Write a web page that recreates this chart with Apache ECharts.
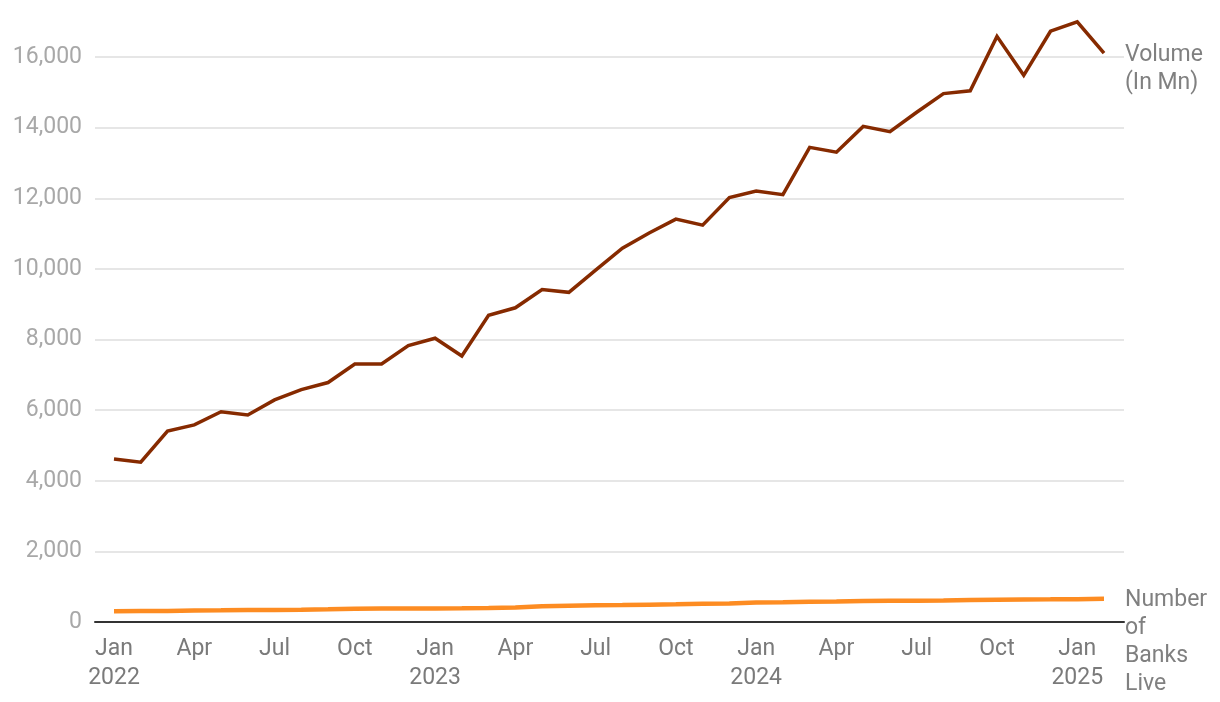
<!DOCTYPE html>
<html>
<head>
<meta charset="utf-8">
<script src="https://cdn.jsdelivr.net/npm/echarts@6/dist/echarts.min.js"></script>
<style>
html,body{margin:0;padding:0;background:#fff;}
#chart{width:1220px;height:702px;}
</style>
</head>
<body>
<div id="chart"></div>
<script>
const categories = [
  'Jan 2022','Feb 2022','Mar 2022','Apr 2022','May 2022','Jun 2022','Jul 2022','Aug 2022','Sep 2022','Oct 2022','Nov 2022','Dec 2022',
  'Jan 2023','Feb 2023','Mar 2023','Apr 2023','May 2023','Jun 2023','Jul 2023','Aug 2023','Sep 2023','Oct 2023','Nov 2023','Dec 2023',
  'Jan 2024','Feb 2024','Mar 2024','Apr 2024','May 2024','Jun 2024','Jul 2024','Aug 2024','Sep 2024','Oct 2024','Nov 2024','Dec 2024',
  'Jan 2025','Feb 2025'
];
const volume = [
  4617, 4527, 5405, 5583, 5955, 5862, 6288, 6579, 6781, 7305, 7309, 7829,
  8036, 7534, 8685, 8898, 9415, 9335, 9964, 10586, 11015, 11408, 11237, 12020,
  12203, 12102, 13440, 13303, 14035, 13885, 14435, 14963, 15042, 16584, 15482, 16730,
  16996, 16110
];
const banks = [
  304, 313, 313, 323, 330, 338, 338, 346, 358, 376, 381, 382,
  385, 390, 399, 414, 444, 458, 473, 481, 492, 500, 516, 522,
  550, 560, 572, 581, 595, 602, 605, 608, 623, 632, 637, 641,
  647, 656
];
const seriesNames = ['Volume\n(In Mn)', 'Number\nof\nBanks\nLive'];
const shownMonths = ['Jan', 'Apr', 'Jul', 'Oct'];

const FONT = 'Roboto';
const chart = echarts.init(document.getElementById('chart'), null, {renderer: 'canvas'});

chart.setOption({
  animation: false,
  backgroundColor: '#ffffff',
  textStyle: {fontFamily: FONT},
  grid: [
    {left: 95, right: 96, top: 57, bottom: 80, containLabel: false},
    {left: 114, right: 116, top: 57, bottom: 80, containLabel: false}
  ],
  xAxis: [
    {
      gridIndex: 0, type: 'value', min: 0, max: 1,
      axisLine: {show: true, lineStyle: {color: '#333333', width: 2}},
      axisTick: {show: false}, axisLabel: {show: false}, splitLine: {show: false}
    },
    {
      gridIndex: 1, type: 'category', data: categories, boundaryGap: false,
      axisLine: {show: false}, axisTick: {show: false}, splitLine: {show: false},
      axisLabel: {
        interval: 0, margin: 13, color: '#7a7a7a', fontSize: 23, lineHeight: 29, fontFamily: FONT,
        formatter: function (v) {
          const parts = v.split(' ');
          if (shownMonths.indexOf(parts[0]) < 0) return '';
          return parts[0] === 'Jan' ? parts[0] + '\n' + parts[1] : parts[0];
        }
      }
    }
  ],
  yAxis: [
    {
      gridIndex: 0, type: 'value', min: 0, max: 16000, interval: 2000,
      axisLine: {show: false}, axisTick: {show: false},
      axisLabel: {
        margin: 13, color: '#a8a8a8', fontSize: 23, fontFamily: FONT,
        formatter: function (v) { return v.toLocaleString('en-US'); }
      },
      splitLine: {show: true, lineStyle: {color: '#e6e6e6', width: 2}}
    },
    {
      gridIndex: 1, type: 'value', min: 0, max: 16000, interval: 2000, show: false,
      splitLine: {show: false}
    }
  ],
  series: [
    {
      name: seriesNames[0], type: 'line', xAxisIndex: 1, yAxisIndex: 1, data: volume,
      clip: false, symbol: 'none', smooth: false,
      lineStyle: {color: '#862a00', width: 3.5, join: 'miter'},
      itemStyle: {color: '#862a00'},
      endLabel: {
        show: true, formatter: '{a}', color: '#808080', fontSize: 23, lineHeight: 28,
        fontFamily: FONT, align: 'left', verticalAlign: 'top', distance: 21, offset: [0, -12]
      }
    },
    {
      name: seriesNames[1], type: 'line', xAxisIndex: 1, yAxisIndex: 1, data: banks,
      clip: false, symbol: 'none', smooth: false,
      lineStyle: {color: '#fd8c22', width: 4.5},
      itemStyle: {color: '#fd8c22'},
      endLabel: {
        show: true, formatter: '{a}', color: '#808080', fontSize: 23, lineHeight: 28,
        fontFamily: FONT, align: 'left', verticalAlign: 'top', distance: 21, offset: [0, -13]
      }
    }
  ]
});
</script>
</body>
</html>
